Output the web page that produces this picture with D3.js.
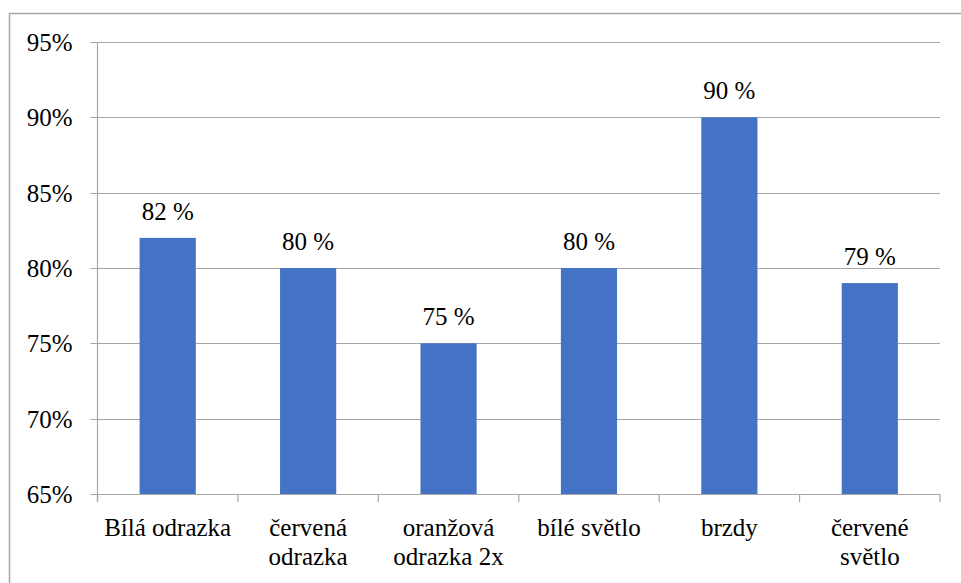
<!DOCTYPE html>
<html>
<head>
<meta charset="utf-8">
<script src="https://cdn.jsdelivr.net/npm/d3@7"></script>
<style>
  html, body { margin: 0; padding: 0; background: #fff; }
  svg { display: block; }
</style>
</head>
<body>
<svg id="chart" width="961" height="583" font-family="'Liberation Serif', Tinos, 'Times New Roman', Times, 'DejaVu Serif', serif"></svg>
<script>
// Share of items in order (per category)
const categories = ["Bílá odrazka", "červená odrazka", "oranžová odrazka 2x", "bílé světlo", "brzdy", "červené světlo"];
const values = [0.82, 0.80, 0.75, 0.80, 0.90, 0.79];
const valueLabels = ["82 %", "80 %", "75 %", "80 %", "90 %", "79 %"];
const yTicks = [0.65, 0.70, 0.75, 0.80, 0.85, 0.90, 0.95];

const svg = d3.select("#chart");
const W = 961, H = 583;
const plot = { left: 97.5, right: 940, top: 42, bottom: 494 };
const gridColor = "#a6a6a6";
const barColor = "#4472C4";
const fontSize = 25;

// Outer chart frame
svg.append("rect")
  .attr("x", 9.5).attr("y", 13.5)
  .attr("width", W).attr("height", H)
  .attr("fill", "none").attr("stroke", gridColor).attr("stroke-width", 1.5);

const x = d3.scaleBand()
  .domain(categories)
  .range([plot.left, plot.right])
  .paddingInner(0.6)
  .paddingOuter(0.3);

const y = d3.scaleLinear()
  .domain([0.65, 0.95])
  .range([plot.bottom, plot.top]);

// Horizontal gridlines and y tick marks
svg.append("g").selectAll("line")
  .data(yTicks)
  .join("line")
  .attr("x1", plot.left - 7).attr("x2", plot.right)
  .attr("y1", d => Math.round(y(d)) + 0.5).attr("y2", d => Math.round(y(d)) + 0.5)
  .attr("stroke", gridColor).attr("stroke-width", 1.2);

// Y axis labels
svg.append("g").selectAll("text")
  .data(yTicks)
  .join("text")
  .attr("x", plot.left - 25)
  .attr("y", d => y(d))
  .attr("dy", "0.36em")
  .attr("text-anchor", "end")
  .attr("font-size", fontSize)
  .text(d => d3.format(".0%")(d));

// Vertical axis line
svg.append("line")
  .attr("x1", plot.left).attr("x2", plot.left)
  .attr("y1", plot.top).attr("y2", plot.bottom + 8)
  .attr("stroke", gridColor).attr("stroke-width", 1.2);

// Bars
svg.append("g").selectAll("rect")
  .data(values)
  .join("rect")
  .attr("x", (d, i) => x(categories[i]))
  .attr("width", x.bandwidth())
  .attr("y", d => y(d))
  .attr("height", d => y(0.65) - y(d))
  .attr("fill", barColor);

// Value labels above bars
svg.append("g").selectAll("text")
  .data(values)
  .join("text")
  .attr("x", (d, i) => x(categories[i]) + x.bandwidth() / 2)
  .attr("y", d => y(d) - 18)
  .attr("text-anchor", "middle")
  .attr("font-size", fontSize)
  .text((d, i) => valueLabels[i]);

// Category axis baseline and boundary ticks
svg.append("line")
  .attr("x1", plot.left - 7).attr("x2", plot.right)
  .attr("y1", plot.bottom + 0.5).attr("y2", plot.bottom + 0.5)
  .attr("stroke", gridColor).attr("stroke-width", 1.2);

const step = x.step();
const bounds = d3.range(categories.length + 1).map(i => plot.left + i * step);
svg.append("g").selectAll("line")
  .data(bounds)
  .join("line")
  .attr("x1", d => d).attr("x2", d => d)
  .attr("y1", plot.bottom).attr("y2", plot.bottom + 8)
  .attr("stroke", gridColor).attr("stroke-width", 1.2);

// Category labels, wrapped to the band width
const maxW = step - 6;
const catG = svg.append("g");
categories.forEach((c, i) => {
  const cx = x(c) + x.bandwidth() / 2;
  const t = catG.append("text")
    .attr("x", cx).attr("y", 536)
    .attr("text-anchor", "middle")
    .attr("font-size", fontSize);
  const words = c.split(" ");
  let line = [];
  let ts = t.append("tspan").attr("x", cx).attr("dy", 0);
  words.forEach(w => {
    line.push(w);
    ts.text(line.join(" "));
    if (ts.node().getComputedTextLength() > maxW && line.length > 1) {
      line.pop();
      ts.text(line.join(" "));
      line = [w];
      ts = t.append("tspan").attr("x", cx).attr("dy", 29).text(w);
    }
  });
});
</script>
</body>
</html>
